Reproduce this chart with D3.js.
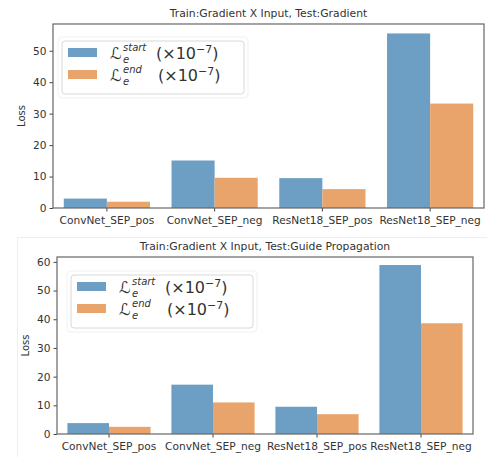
<!DOCTYPE html>
<html>
<head>
<meta charset="utf-8">
<script src="https://cdn.jsdelivr.net/npm/d3@7"></script>
<style>
  body { margin: 0; background: #fff; }
  svg text { font-family: "DejaVu Sans", sans-serif; fill: #333; }
</style>
</head>
<body>
<div id="viz"></div>
<script>
// categories shared by both panels
var categories = ["ConvNet_SEP_pos", "ConvNet_SEP_neg", "ResNet18_SEP_pos", "ResNet18_SEP_neg"];
var series = ["start", "end"];

// panel 1: Test:Gradient
var startGradient = [3.0, 15.1, 9.5, 55.5];
var endGradient = [2.0, 9.6, 6.0, 33.2];
var ticksGradient = [0, 10, 20, 30, 40, 50];

// panel 2: Test:Guide Propagation
var startGuide = [3.8, 17.2, 9.5, 58.9];
var endGuide = [2.5, 11.0, 6.9, 38.6];
var ticksGuide = [0, 10, 20, 30, 40, 50, 60];

var colors = {start: "#6d9fc4", end: "#e9a46b"};

var SVG = d3.select("#viz").append("svg")
    .attr("width", 487)
    .attr("height", 457);

// faint frame round the lower picture
SVG.append("rect")
    .attr("x", 17.5).attr("y", 237.5)
    .attr("width", 475).attr("height", 230)
    .attr("fill", "none")
    .attr("stroke", "#efefef");

function drawPanel(opts) {
    var box = opts.box;
    var w = box.right - box.left, h = box.bottom - box.top;
    var g = SVG.append("g").attr("transform", "translate(" + box.left + "," + box.top + ")");

    var x0 = d3.scaleBand().domain(categories).range([0, w])
        .paddingInner(0.2).paddingOuter(0.1);
    var x1 = d3.scaleBand().domain(series).range([0, x0.bandwidth()]);
    var y = d3.scaleLinear().domain([0, opts.yMax]).range([h, 0]);

    var rows = categories.map(function(c, i) {
        return {cat: c, start: opts.start[i], end: opts.end[i]};
    });

    // bars
    g.selectAll("g.grp").data(rows).enter().append("g")
        .attr("transform", function(d) { return "translate(" + x0(d.cat) + ",0)"; })
        .selectAll("rect")
        .data(function(d) { return series.map(function(s) { return {s: s, v: d[s]}; }); })
        .enter().append("rect")
        .attr("x", function(d) { return x1(d.s); })
        .attr("y", function(d) { return y(d.v); })
        .attr("width", x1.bandwidth())
        .attr("height", function(d) { return h - y(d.v); })
        .attr("fill", function(d) { return colors[d.s]; });

    // axes
    var ya = g.append("g").call(d3.axisLeft(y).tickValues(opts.ticks).tickSize(3.5).tickPadding(3));
    var xa = g.append("g").attr("transform", "translate(0," + h + ")")
        .call(d3.axisBottom(x0).tickSize(3.5).tickPadding(4.5));
    [ya, xa].forEach(function(a) {
        a.select(".domain").remove();
        a.selectAll("line").attr("stroke", "#444");
        a.selectAll("text").attr("font-size", 10.6).attr("fill", "#333")
            .attr("font-family", "DejaVu Sans, sans-serif");
    });

    // frame
    g.append("rect").attr("width", w).attr("height", h)
        .attr("fill", "none").attr("stroke", "#666").attr("stroke-width", 1.2);

    // title and y label
    g.append("text").attr("x", w / 2).attr("y", opts.titleY - box.top)
        .attr("text-anchor", "middle").attr("font-size", 10.8).text(opts.title);
    g.append("text")
        .attr("transform", "translate(" + (opts.labelX - box.left) + "," + (h / 2) + ") rotate(-90)")
        .attr("text-anchor", "middle").attr("font-size", 10).text("Loss");

    drawLegend(opts.legend);
}

function drawLegend(L) {
    var g = SVG.append("g").attr("transform", "translate(" + L.x + "," + L.y + ")");
    g.append("rect").attr("x", -4).attr("y", -4).attr("width", 190).attr("height", 61)
        .attr("rx", 4).attr("fill", "#fff").attr("stroke", "#f1f1f1");
    g.append("rect").attr("x", 0).attr("y", 0).attr("width", 182).attr("height", 53)
        .attr("rx", 3).attr("fill", "#fff").attr("stroke", "#d8d8d8");
    var serif = "DejaVu Serif, Liberation Serif, serif";
    series.forEach(function(s, i) {
        var ry = 7 + i * 22;
        g.append("rect").attr("x", 6).attr("y", ry).attr("width", 29).attr("height", 9)
            .attr("fill", colors[s]);
        // one text element: script L, stacked sup/sub, then the scale factor
        var t = g.append("text").attr("x", 48).attr("y", ry + 11)
            .attr("font-family", serif).attr("fill", "#111");
        t.append("tspan").attr("font-size", 16).attr("font-style", "italic").text("\u2112");
        t.append("tspan").attr("x", 61).attr("dy", -8).attr("font-size", 10)
            .attr("font-style", "italic").text(s);
        t.append("tspan").attr("x", 61).attr("dy", 12).attr("font-size", 10)
            .attr("font-style", "italic").text("e");
        t.append("tspan").attr("x", s === "start" ? 94 : 96).attr("dy", -4)
            .attr("font-size", 16).text("(\u00d710");
        t.append("tspan").attr("font-size", 11).attr("dy", -6).text("\u22127");
        t.append("tspan").attr("font-size", 16).attr("dy", 6).text(")");
    });
}

drawPanel({
    box: {left: 53, right: 484, top: 24, bottom: 208},
    yMax: 58.5, ticks: ticksGradient,
    start: startGradient, end: endGradient,
    title: "Train:Gradient X Input, Test:Gradient", titleY: 17, labelX: 25,
    legend: {x: 62, y: 41}
});

drawPanel({
    box: {left: 57, right: 473, top: 257, bottom: 434},
    yMax: 61.7, ticks: ticksGuide,
    start: startGuide, end: endGuide,
    title: "Train:Gradient X Input, Test:Guide Propagation", titleY: 250, labelX: 29,
    legend: {x: 71, y: 275}
});
</script>
</body>
</html>
